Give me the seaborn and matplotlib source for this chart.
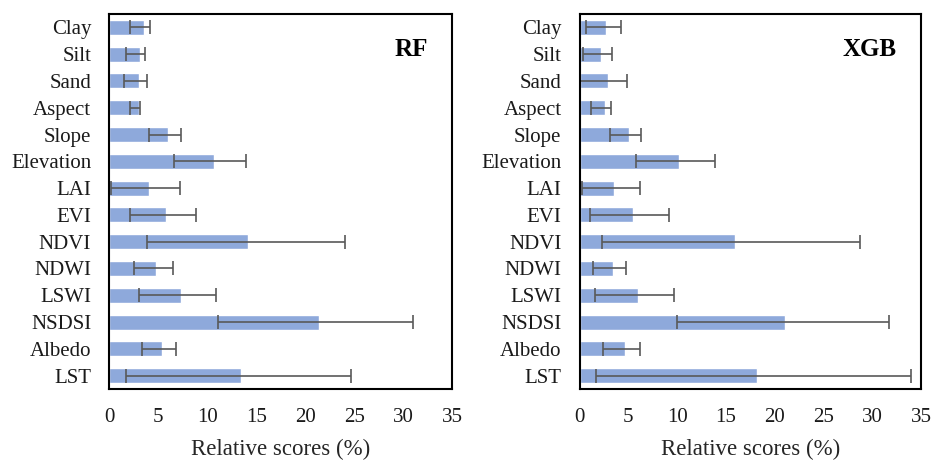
import numpy as np
import pandas as pd
import matplotlib
matplotlib.use("Agg")
import matplotlib.pyplot as plt
import seaborn as sns

# Predictor variables (top to bottom)
features = ["Clay", "Silt", "Sand", "Aspect", "Slope", "Elevation", "LAI",
            "EVI", "NDVI", "NDWI", "LSWI", "NSDSI", "Albedo", "LST"]

# Random forest: mean relative score with lower / upper range (%)
rf_mean = [3.5, 3.1, 3.0, 3.0, 6.0, 10.7, 4.1, 5.8, 14.2, 4.8, 7.3, 21.4, 5.4, 13.5]
rf_low = [2.1, 1.7, 1.5, 2.1, 4.1, 6.6, 0.2, 2.1, 3.8, 2.5, 3.0, 11.1, 3.3, 1.7]
rf_high = [4.2, 3.6, 3.8, 3.1, 7.3, 14.0, 7.2, 8.9, 24.1, 6.5, 10.9, 31.0, 6.8, 24.7]

# XGBoost: mean relative score with lower / upper range (%)
xgb_mean = [2.7, 2.2, 2.9, 2.6, 5.1, 10.2, 3.5, 5.5, 15.9, 3.4, 6.0, 21.1, 4.7, 18.2]
xgb_low = [0.7, 0.4, 0.0, 1.2, 3.1, 5.8, 0.3, 1.1, 2.3, 1.4, 1.6, 10.0, 2.4, 1.7]
xgb_high = [4.3, 3.3, 4.9, 3.2, 6.3, 13.9, 6.2, 9.2, 28.8, 4.8, 9.7, 31.7, 6.2, 34.0]

xticks = [0, 5, 10, 15, 20, 25, 30, 35]
models = ["RF", "XGB"]

sns.set_theme(style="white")
plt.rcParams["font.family"] = ["Liberation Serif", "DejaVu Serif"]

bar_color = "#8EA9DB"
err_color = "#595959"

fig = plt.figure(figsize=(9.35, 4.61), dpi=100)
ax_rf = fig.add_axes([0.1169, 0.1562, 0.3665, 0.8134])
ax_xgb = fig.add_axes([0.6198, 0.1562, 0.3652, 0.8134])

panels = [
    (ax_rf, "RF", rf_mean, rf_low, rf_high),
    (ax_xgb, "XGB", xgb_mean, xgb_low, xgb_high),
]

for ax, name, mean, low, high in panels:
    df = pd.DataFrame({"feature": features, "score": mean})
    sns.barplot(data=df, x="score", y="feature", orient="h", color=bar_color,
                width=0.56, saturation=1, ax=ax)
    mean_a = np.array(mean)
    xerr = np.vstack([mean_a - np.array(low), np.array(high) - mean_a])
    ax.errorbar(mean_a, np.arange(len(features)), xerr=xerr, fmt="none",
                ecolor=err_color, elinewidth=1.2, capsize=4.7, capthick=1.2)

    ax.set_xlim(0, 35)
    ax.set_ylim(13.5, -0.5)
    ax.set_xticks(xticks)
    ax.set_xticklabels([str(t) for t in xticks], fontsize=15)
    ax.set_ylabel("")
    ax.set_xlabel("Relative scores (%)", fontsize=16.5, labelpad=8)
    ax.tick_params(axis="x", direction="in", length=5, width=1.5,
                   color="black", pad=14)
    ax.tick_params(axis="y", length=0, pad=13, labelsize=15)
    for lab in ax.get_yticklabels():
        lab.set_color("#1a1a1a")
    for lab in ax.get_xticklabels():
        lab.set_color("#1a1a1a")
    for sp in ax.spines.values():
        sp.set_visible(True)
        sp.set_color("black")
        sp.set_linewidth(1.5)
    ax.text(0.93, 0.905, name, transform=ax.transAxes, ha="right", va="center",
            fontsize=18, fontweight="bold", color="black")

fig.savefig("out.png", dpi=100)
